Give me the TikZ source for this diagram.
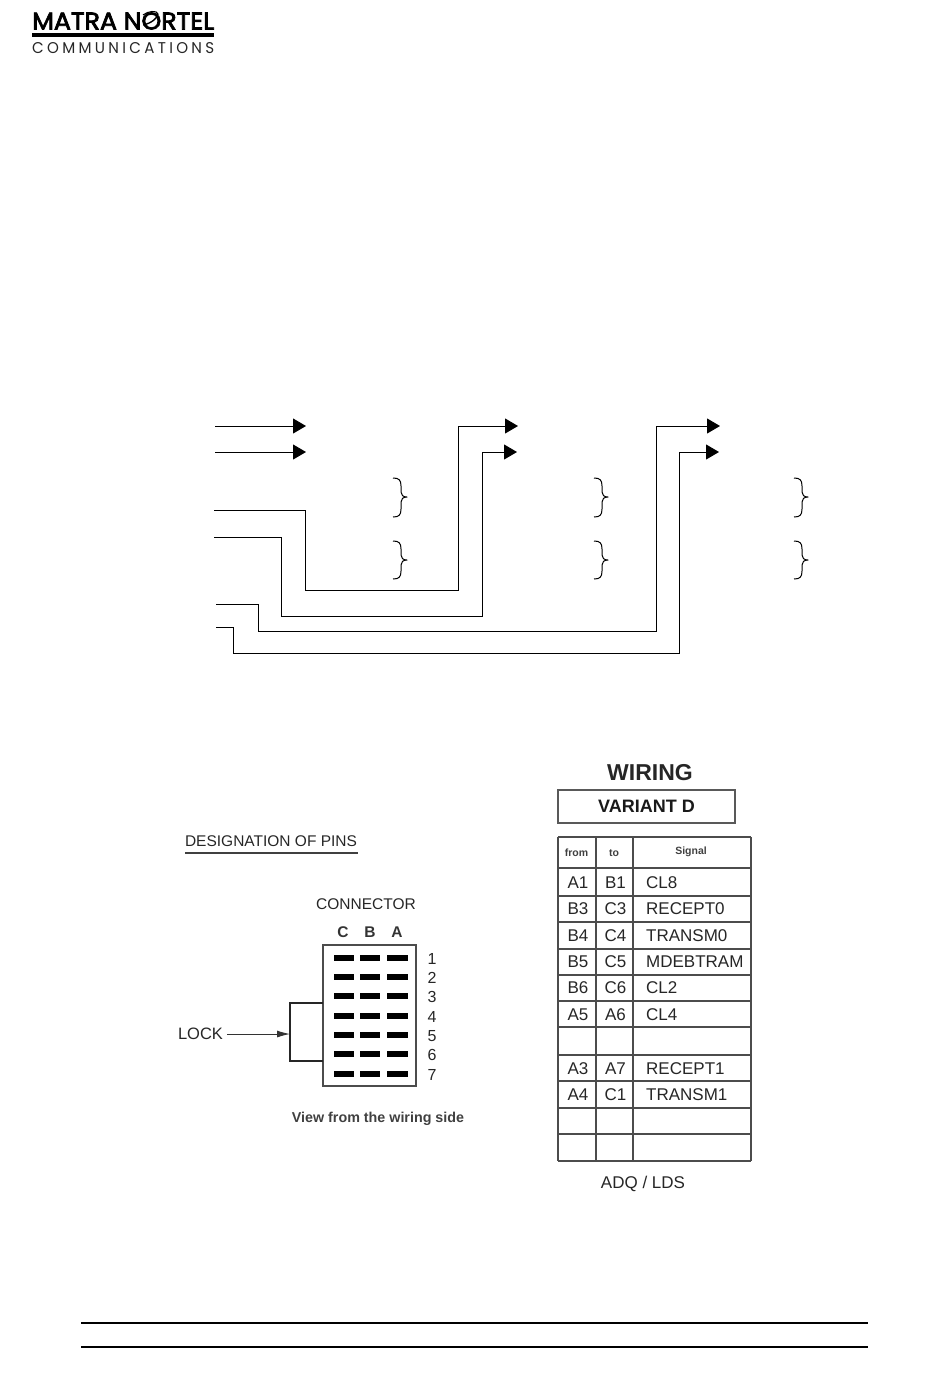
\documentclass[tikz,border=0pt]{standalone}
\usepackage{fontspec}
\setmainfont{Liberation Sans}
\newfontfamily\logofont[FakeBold=3]{Poppins}
\newfontfamily\logospaced[LetterSpace=22]{Poppins}
\usetikzlibrary{arrows.meta}
\newcommand{\curlyat}[4]{% x0, top, middle, bottom
  \draw[curly] (#1,#2) .. controls (#1+6,#2) and (#1+8,#2+2) .. (#1+8,#2+8)
    -- (#1+8,#3-5) .. controls (#1+8,#3-2) and (#1+10,#3) .. (#1+14,#3)
    .. controls (#1+10,#3) and (#1+8,#3+2) .. (#1+8,#3+5)
    -- (#1+8,#4-8) .. controls (#1+8,#4-2) and (#1+6,#4) .. (#1,#4);}
\tikzset{
  x=1pt,y=-1pt,
  wire/.style={draw=black,line width=0.95pt},
  wirearrow/.style={wire,-{Triangle[length=13pt,width=15pt]}},
  curly/.style={draw=black,line width=1pt,line join=round},
  pin/.style={draw=none,fill=black,minimum width=20.5pt,minimum height=5.5pt,inner sep=0pt},
  rowlab/.style={font=\fontsize{16}{16}\selectfont,text=black!85,inner sep=0pt},
  conlab/.style={font=\fontsize{15.5}{16}\selectfont,text=black!85,inner sep=0pt},
  collab/.style={font=\fontsize{15.5}{16}\selectfont\bfseries,text=black!80,inner sep=0pt},
  cell/.style={font=\fontsize{17}{17}\selectfont,text=black!85,inner sep=0pt},
  sigcell/.style={cell,anchor=west},
  headcell/.style={font=\fontsize{10.5}{11}\bfseries\selectfont,text=black!75,inner sep=0pt},
  grid/.style={draw=black!70,line width=1.2pt},
  frame/.style={draw=black!70,line width=2pt},
  hr/.style={draw=black,line width=2.2pt},
}
\begin{document}
\begin{tikzpicture}
\useasboundingbox (0,0) rectangle (950,1379);
% logo
\node[anchor=west,inner sep=0pt] (logotop) at (32,21) {\resizebox{182pt}{17pt}{\logofont MATRA NORTEL}};
\coordinate (logoL) at (32,35);
\coordinate (logoR) at (214,35);
\draw[draw=black,line width=3.6pt] (logoL) -- (logoR);
\node[anchor=west,inner sep=0pt,text=black!85] (logobot) at (32,48) {\resizebox{182pt}{11pt}{\logospaced COMMUNICATIONS}};
\draw[black,line width=1.4pt] (144,25) .. controls (151,23) and (158,18) .. (158,14);
\draw[black,line width=1.1pt] (143,15) .. controls (148,11) and (157,10) .. (158,14);
% signal wires
\coordinate (s1) at (215,426); \coordinate (e1) at (306,426);
\coordinate (s2) at (215,452); \coordinate (e2) at (306,452);
\draw[wirearrow] (s1) -- (e1);
\draw[wirearrow] (s2) -- (e2);
\coordinate (s3) at (214,510); \coordinate (e3) at (518,426);
\coordinate (s4) at (214,537); \coordinate (e4) at (517,452);
\coordinate (s5) at (216,604); \coordinate (e5) at (720,426);
\coordinate (s6) at (216,627); \coordinate (e6) at (719,452);
\draw[wirearrow] (s3) -- (305,510) -- (305,590) -- (458,590) -- (458,426) -- (e3);
\draw[wirearrow] (s4) -- (281,537) -- (281,616) -- (482,616) -- (482,452) -- (e4);
\draw[wirearrow] (s5) -- (258,604) -- (258,631) -- (656,631) -- (656,426) -- (e5);
\draw[wirearrow] (s6) -- (233,627) -- (233,653) -- (679,653) -- (679,452) -- (e6);
% braces
\foreach \bx in {393,594,794}{
  \curlyat{\bx}{478}{497}{517}
  \curlyat{\bx}{541}{560}{579}
}
% designation
\node[inner sep=0pt,font=\fontsize{15.5}{16}\selectfont,text=black!85] (desig) at (271,841) {DESIGNATION OF PINS};
\coordinate (ulL) at (185,853); \coordinate (ulR) at (358,853);
\draw[draw=black!75,line width=1.6pt] (ulL) -- (ulR);
\node[conlab] (conn) at (366,904.5) {CONNECTOR};
\node[collab] (colC) at (343,932) {C};
\node[collab] (colB) at (370,932) {B};
\node[collab] (colA) at (397,932) {A};
% connector body
\draw[frame] (323,945) rectangle (415.5,1085.5);
\foreach \r/\y in {1/958,2/977,3/996,4/1016,5/1035,6/1054,7/1074}{
  \node[pin] (pC\r) at (344,\y) {};
  \node[pin] (pB\r) at (370,\y) {};
  \node[pin] (pA\r) at (397.5,\y) {};
  \node[rowlab] (num\r) at (432,\y+1) {\r};
}
% lock
\coordinate (lk1) at (323,1003); \coordinate (lk2) at (323,1061);
\draw[draw=black!85,line width=1.6pt] (lk1) -- (290,1003) -- (290,1061) -- (lk2);
\node[font=\fontsize{16.5}{17}\selectfont,text=black!85,inner sep=0pt] (lock) at (200.5,1034) {LOCK};
\coordinate (lockpt) at (290,1034);
\draw[draw=black!80,line width=.9pt,-{Latex[length=13pt,width=7pt]}] (lock.east) ++(4,0) -- (lockpt);
\node[inner sep=0pt,font=\fontsize{14.3}{15}\bfseries\selectfont,text=black!75] (view) at (378,1118.5) {View from the wiring side};
% wiring
\node[inner sep=0pt,font=\fontsize{23}{24}\selectfont\bfseries,text=black!85] (wiring) at (650,772.5) {WIRING};
\node[draw=black!65,line width=1.6pt,minimum width=177pt,minimum height=33pt,inner sep=0pt,font=\fontsize{18}{19}\selectfont\bfseries,text=black!90] (variant) at (646.5,806.5) {VARIANT D};
% table
\foreach \y in {837,868,896,922,949,975,1001,1027,1055,1081,1108,1134,1161}{
  \draw[grid] (558,\y) -- (751,\y);
}
\foreach \x in {558,596,633,751}{
  \draw[grid] (\x,837) -- (\x,1161);
}
\node[headcell] (hfrom) at (576.5,853) {from};
\node[headcell] (hto) at (614,853) {to};
\node[headcell] (hsig) at (691,852) {Signal};
\foreach \i/\y/\a/\b/\s in {
 1/882.5/A1/B1/CL8,
 2/908.5/B3/C3/RECEPT0,
 3/935.5/B4/C4/TRANSM0,
 4/961.5/B5/C5/MDEBTRAM,
 5/987.5/B6/C6/CL2,
 6/1014.5/A5/A6/CL4,
 7/1068.5/A3/A7/RECEPT1,
 8/1094.5/A4/C1/TRANSM1}{
  \node[cell] (fr\i) at (578,\y) {\a};
  \node[cell] (to\i) at (615.5,\y) {\b};
  \node[sigcell] (sg\i) at (646,\y) {\s};
}
\node[cell] (adq) at (643,1183.5) {ADQ / LDS};
% bottom rules
\coordinate (r1L) at (81,1323); \coordinate (r1R) at (868,1323);
\coordinate (r2L) at (81,1347); \coordinate (r2R) at (868,1347);
\draw[hr] (r1L) -- (r1R);
\draw[hr] (r2L) -- (r2R);
\end{tikzpicture}
\end{document}
